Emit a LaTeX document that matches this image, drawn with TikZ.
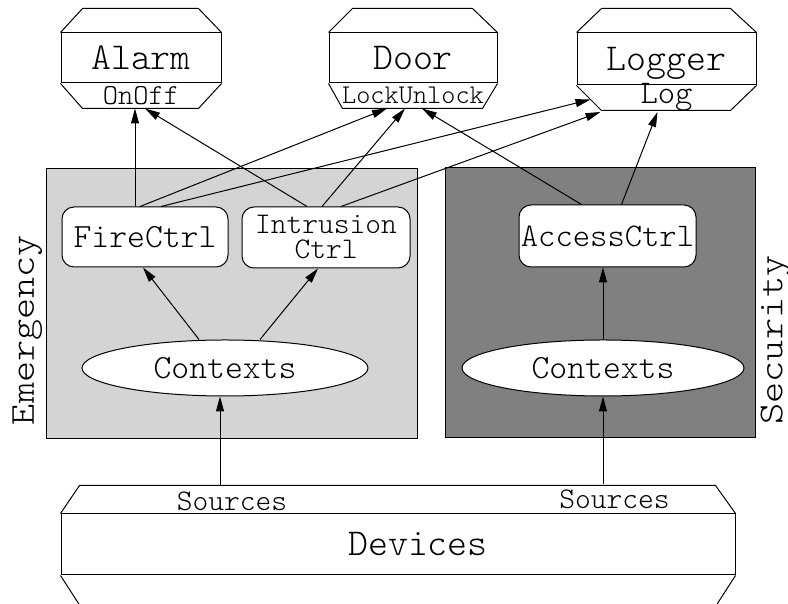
\documentclass[tikz,border=0pt]{standalone}
\usetikzlibrary{shapes.geometric,arrows.meta}
\definecolor{emfill}{gray}{0.83}
\definecolor{secfill}{gray}{0.5}
\begin{document}
\begin{tikzpicture}[x=1pt,y=1pt,line width=1pt]
  \tikzstyle{bigtxt}=[font=\ttfamily\fontseries{l}\fontsize{38}{42}\selectfont]
  \tikzstyle{midtxt}=[font=\ttfamily\fontseries{l}\fontsize{34}{38}\selectfont]
  \tikzstyle{smalltxt}=[font=\ttfamily\fontseries{l}\fontsize{30}{33}\selectfont]
  \tikzstyle{sidetxt}=[font=\ttfamily\fontseries{l}\fontsize{35}{38}\selectfont,rotate=90,anchor=north,inner sep=0pt]
  \tikzstyle{arr}=[-{Triangle[length=15pt,width=8pt]}]
  \tikzstyle{band}=[draw,inner sep=0pt]
  \tikzstyle{port}=[inner sep=0pt,minimum height=25pt]
  \tikzstyle{ctrl}=[draw,fill=white,rounded corners=12pt,inner sep=0pt,midtxt]
  \tikzstyle{ctx}=[draw,fill=white,ellipse,inner sep=0pt,minimum height=56pt,midtxt]
  \tikzstyle{cluster}=[draw,inner sep=0pt,minimum height=270pt]
  \useasboundingbox (0,0) rectangle (788,604);
  \node[cluster,fill=emfill,minimum width=371pt] (emergency) at (231.5,300) {};
  \node[cluster,fill=secfill,minimum width=310pt] (security) at (600,301) {};
  \node[sidetxt] (emlabel) at (12,274) {\scalebox{1.15}[1]{Emergency}};
  \node[sidetxt] (seclabel) at (760,264) {\scalebox{1.15}[1]{Security}};
  \node[band,bigtxt,minimum width=160pt,minimum height=50pt] (alarm) at (141,546) {Alarm};
  \draw (alarm.north west) -- ++(22,24) -- ++(116,0) -- (alarm.north east);
  \draw (alarm.south west) -- ++(22,-25) -- ++(116,0) -- (alarm.south east);
  \node[port,font=\ttfamily\fontseries{l}\fontsize{29}{32}\selectfont,minimum width=160pt] (onoff) at (141,508.5) {OnOff};
  \node[band,bigtxt,minimum width=168pt,minimum height=50pt] (door) at (413,546) {Door};
  \draw (door.north west) -- ++(24,24) -- ++(120,0) -- (door.north east);
  \draw (door.south west) -- ++(14,-25) -- ++(140,0) -- (door.south east);
  \node[port,font=\ttfamily\fontseries{l}\fontsize{27}{30}\selectfont,minimum width=168pt] (lock) at (413,508.5) {LockUnlock};
  \node[band,bigtxt,text depth=0pt,minimum width=179pt,minimum height=52pt] (logger) at (666.5,545) {Logger};
  \draw (logger.north west) -- ++(25,24) -- ++(129,0) -- (logger.north east);
  \draw (logger.south west) -- ++(25,-25) -- ++(129,0) -- (logger.south east);
  \node[port,font=\ttfamily\fontseries{l}\fontsize{33}{36}\selectfont,minimum width=179pt] (log) at (666.5,506.5) {Log};
  \node[ctrl,minimum width=166pt,minimum height=60pt] (fire) at (145,367) {FireCtrl};
  \node[ctrl,align=center,font=\ttfamily\fontseries{l}\fontsize{30}{25}\selectfont,minimum width=168pt,minimum height=61pt] (intr) at (326,366.5) {Intrusion\\Ctrl};
  \node[ctrl,font=\ttfamily\fontseries{l}\fontsize{33}{36}\selectfont,minimum width=177pt,minimum height=62pt] (acc) at (607.5,368) {AccessCtrl};
  \node[ctx,minimum width=286pt] (ctxl) at (225,236) {Contexts};
  \node[ctx,minimum width=282pt] (ctxr) at (603,236) {Contexts};
  \node[band,bigtxt,minimum width=674pt,minimum height=61pt] (devices) at (398,59.5) {\hspace*{40pt}Devices};
  \draw (devices.north west) -- ++(19,28) -- ++(636,0) -- (devices.north east);
  \draw (devices.south west) -- ++(19,-29.5);
  \draw (devices.south east) -- ++(-19,-29.5);
  \node[port,smalltxt,minimum height=28pt] (srcl) at (232,103) {Sources};
  \node[port,smalltxt,minimum height=28pt] (srcr) at (614.5,105) {Sources};
  \draw[arr] ([xshift=-12pt]srcl.north) -- ([xshift=-5pt]ctxl.south);
  \draw[arr] ([xshift=-11.5pt]srcr.north) -- (ctxr.south);
  \draw[arr] ([xshift=-26pt]ctxl.north) -- ([xshift=-2pt]fire.south);
  \draw[arr] ([xshift=35pt]ctxl.north) -- ([xshift=-8pt]intr.south);
  \draw[arr] (ctxr.north) -- ([xshift=-4.5pt]acc.south);
  \draw[arr] ([xshift=-10pt]fire.north) -- ([xshift=-6pt]onoff.south);
  \draw[arr] ([xshift=-19pt]intr.north) -- ([xshift=4pt]onoff.south);
  \draw[arr] ([xshift=-5pt]fire.north) -- ([xshift=-26pt]lock.south);
  \draw[arr] ([xshift=16pt]fire.north) -- ([xshift=14pt,yshift=-2pt]log.west);
  \draw[arr] ([xshift=-4pt]intr.north) -- ([xshift=-8pt]lock.south);
  \draw[arr] ([xshift=15pt]intr.north) -- ([xshift=24pt]log.south west);
  \draw[arr] ([xshift=-26pt]acc.north) -- ([xshift=9pt]lock.south);
  \draw[arr] ([xshift=14pt]acc.north) -- ([xshift=-9pt]log.south);
\end{tikzpicture}
\end{document}
